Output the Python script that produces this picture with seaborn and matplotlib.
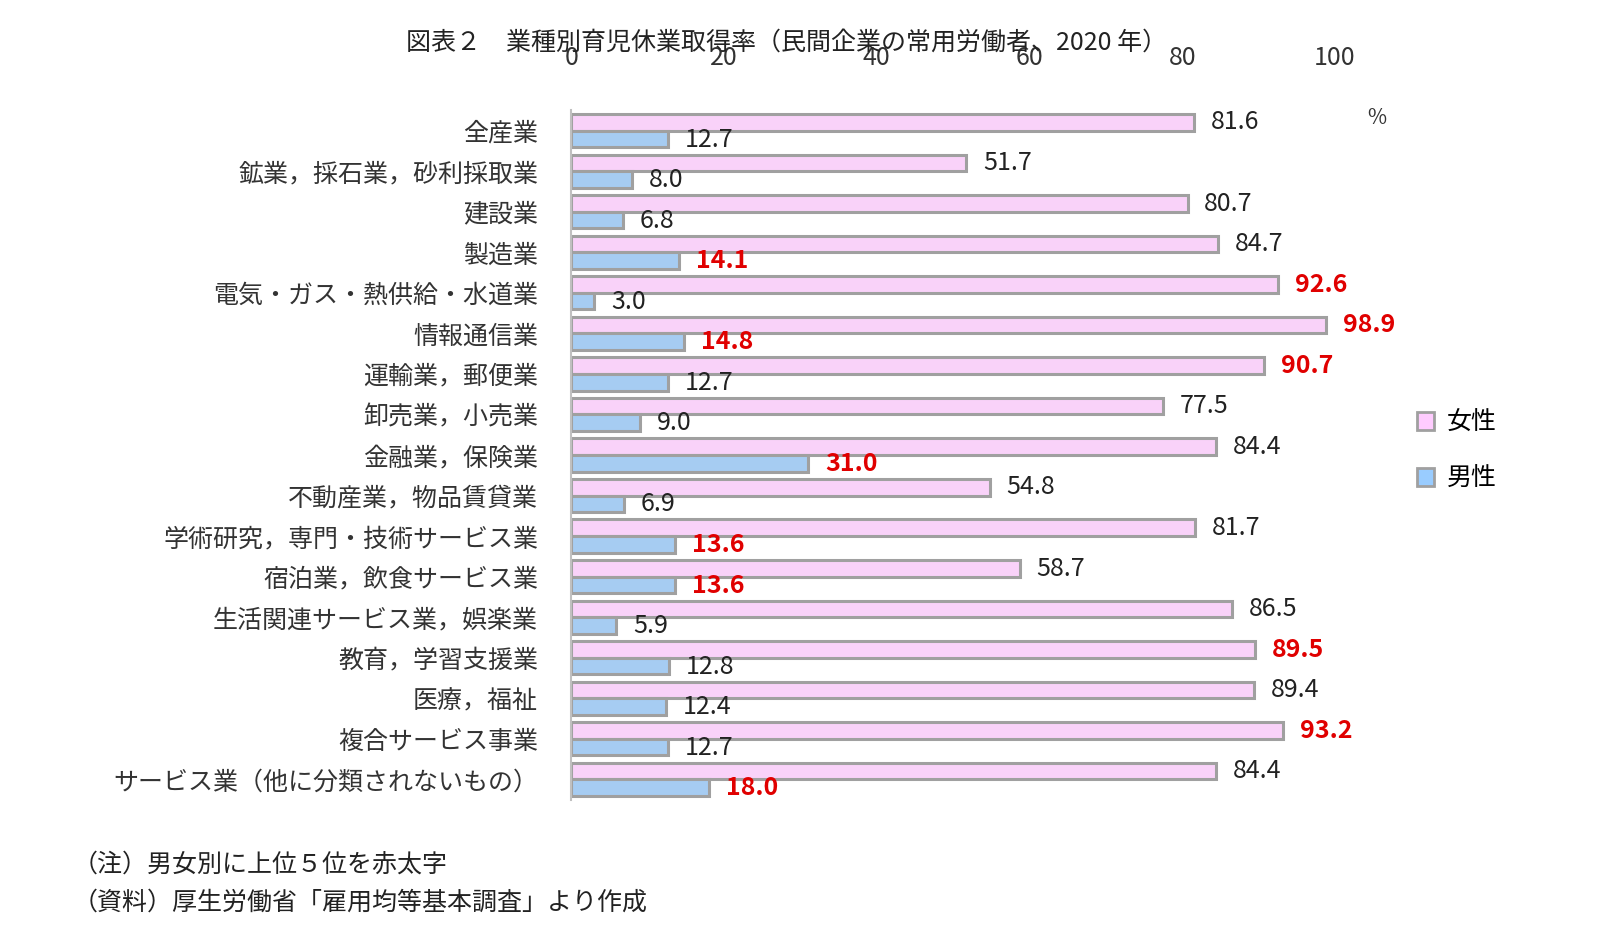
import matplotlib
matplotlib.use("Agg")
import matplotlib.pyplot as plt
import seaborn as sns
import pandas as pd
from matplotlib.patches import Patch

plt.rcParams["font.family"] = "Noto Sans CJK JP"

categories = ["全産業", "鉱業，採石業，砂利採取業", "建設業", "製造業", "電気・ガス・熱供給・水道業",
              "情報通信業", "運輸業，郵便業", "卸売業，小売業", "金融業，保険業", "不動産業，物品賃貸業",
              "学術研究，専門・技術サービス業", "宿泊業，飲食サービス業", "生活関連サービス業，娯楽業",
              "教育，学習支援業", "医療，福祉", "複合サービス事業", "サービス業（他に分類されないもの）"]
female = [81.6, 51.7, 80.7, 84.7, 92.6, 98.9, 90.7, 77.5, 84.4, 54.8, 81.7, 58.7, 86.5, 89.5, 89.4, 93.2, 84.4]
male = [12.7, 8.0, 6.8, 14.1, 3.0, 14.8, 12.7, 9.0, 31.0, 6.9, 13.6, 13.6, 5.9, 12.8, 12.4, 12.7, 18.0]
female_red = [False, False, False, False, True, True, True, False, False, False, False, False, False, True, False, True, False]
male_red = [False, False, False, True, False, True, False, False, True, False, True, True, False, False, False, False, True]
series = ["女性", "男性"]
ticks = [0, 20, 40, 60, 80, 100]

df = pd.DataFrame({
    "cat": categories * 2,
    "val": female + male,
    "sex": [series[0]] * len(categories) + [series[1]] * len(categories),
})

fig = plt.figure(figsize=(16.21, 9.43), dpi=100)
ax = fig.add_axes([0.3525, 0.152, 0.471, 0.731])
sns.barplot(data=df, y="cat", x="val", hue="sex", orient="h", ax=ax,
            palette={"女性": "#FFCCFF", "男性": "#99CCFF"}, width=0.82,
            edgecolor="#A0A0A0", linewidth=2.2, legend=False)
ax.set_xlim(0, 100)
ax.set_ylim(len(categories) - 0.5, -0.5)
ax.xaxis.tick_top()
ax.set_xticks(ticks)
ax.tick_params(axis="x", length=0, labelsize=18, pad=28, colors="#333333")
ax.tick_params(axis="y", length=0, labelsize=18, pad=24, colors="#333333")
ax.set_xlabel("")
ax.set_ylabel("")
for s in ["top", "right", "bottom"]:
    ax.spines[s].set_visible(False)
ax.spines["left"].set_color("#C0C0C0")
ax.spines["left"].set_linewidth(1.5)

for i in range(len(categories)):
    for v, red, dy in [(female[i], female_red[i], -0.2), (male[i], male_red[i], 0.22)]:
        ax.text(v + 2.2, i + dy, f"{v:.1f}", va="center", ha="left", fontsize=18,
                color="#E00000" if red else "#222222", fontweight="bold" if red else "normal")

ax.text(105.5, -0.3, "%", fontsize=15, color="#333333", ha="center", va="center")

handles = [Patch(facecolor="#FFCCFF", edgecolor="#A0A0A0", linewidth=2),
           Patch(facecolor="#99CCFF", edgecolor="#A0A0A0", linewidth=2)]
fig.legend(handles, series, loc="center left", bbox_to_anchor=(0.86, 0.522), frameon=False,
           fontsize=18, handlelength=0.7, handleheight=0.7, labelspacing=1.2, handletextpad=0.5)

fig.text(0.485, 0.955, "図表２　業種別育児休業取得率（民間企業の常用労働者、2020 年）", ha="center",
         va="center", fontsize=18, color="#222222")
fig.text(0.045, 0.083, "（注）男女別に上位５位を赤太字", fontsize=18, va="center", color="#222222")
fig.text(0.045, 0.043, "（資料）厚生労働省「雇用均等基本調査」より作成", fontsize=18, va="center", color="#222222")

fig.savefig("out.png", dpi=100)
